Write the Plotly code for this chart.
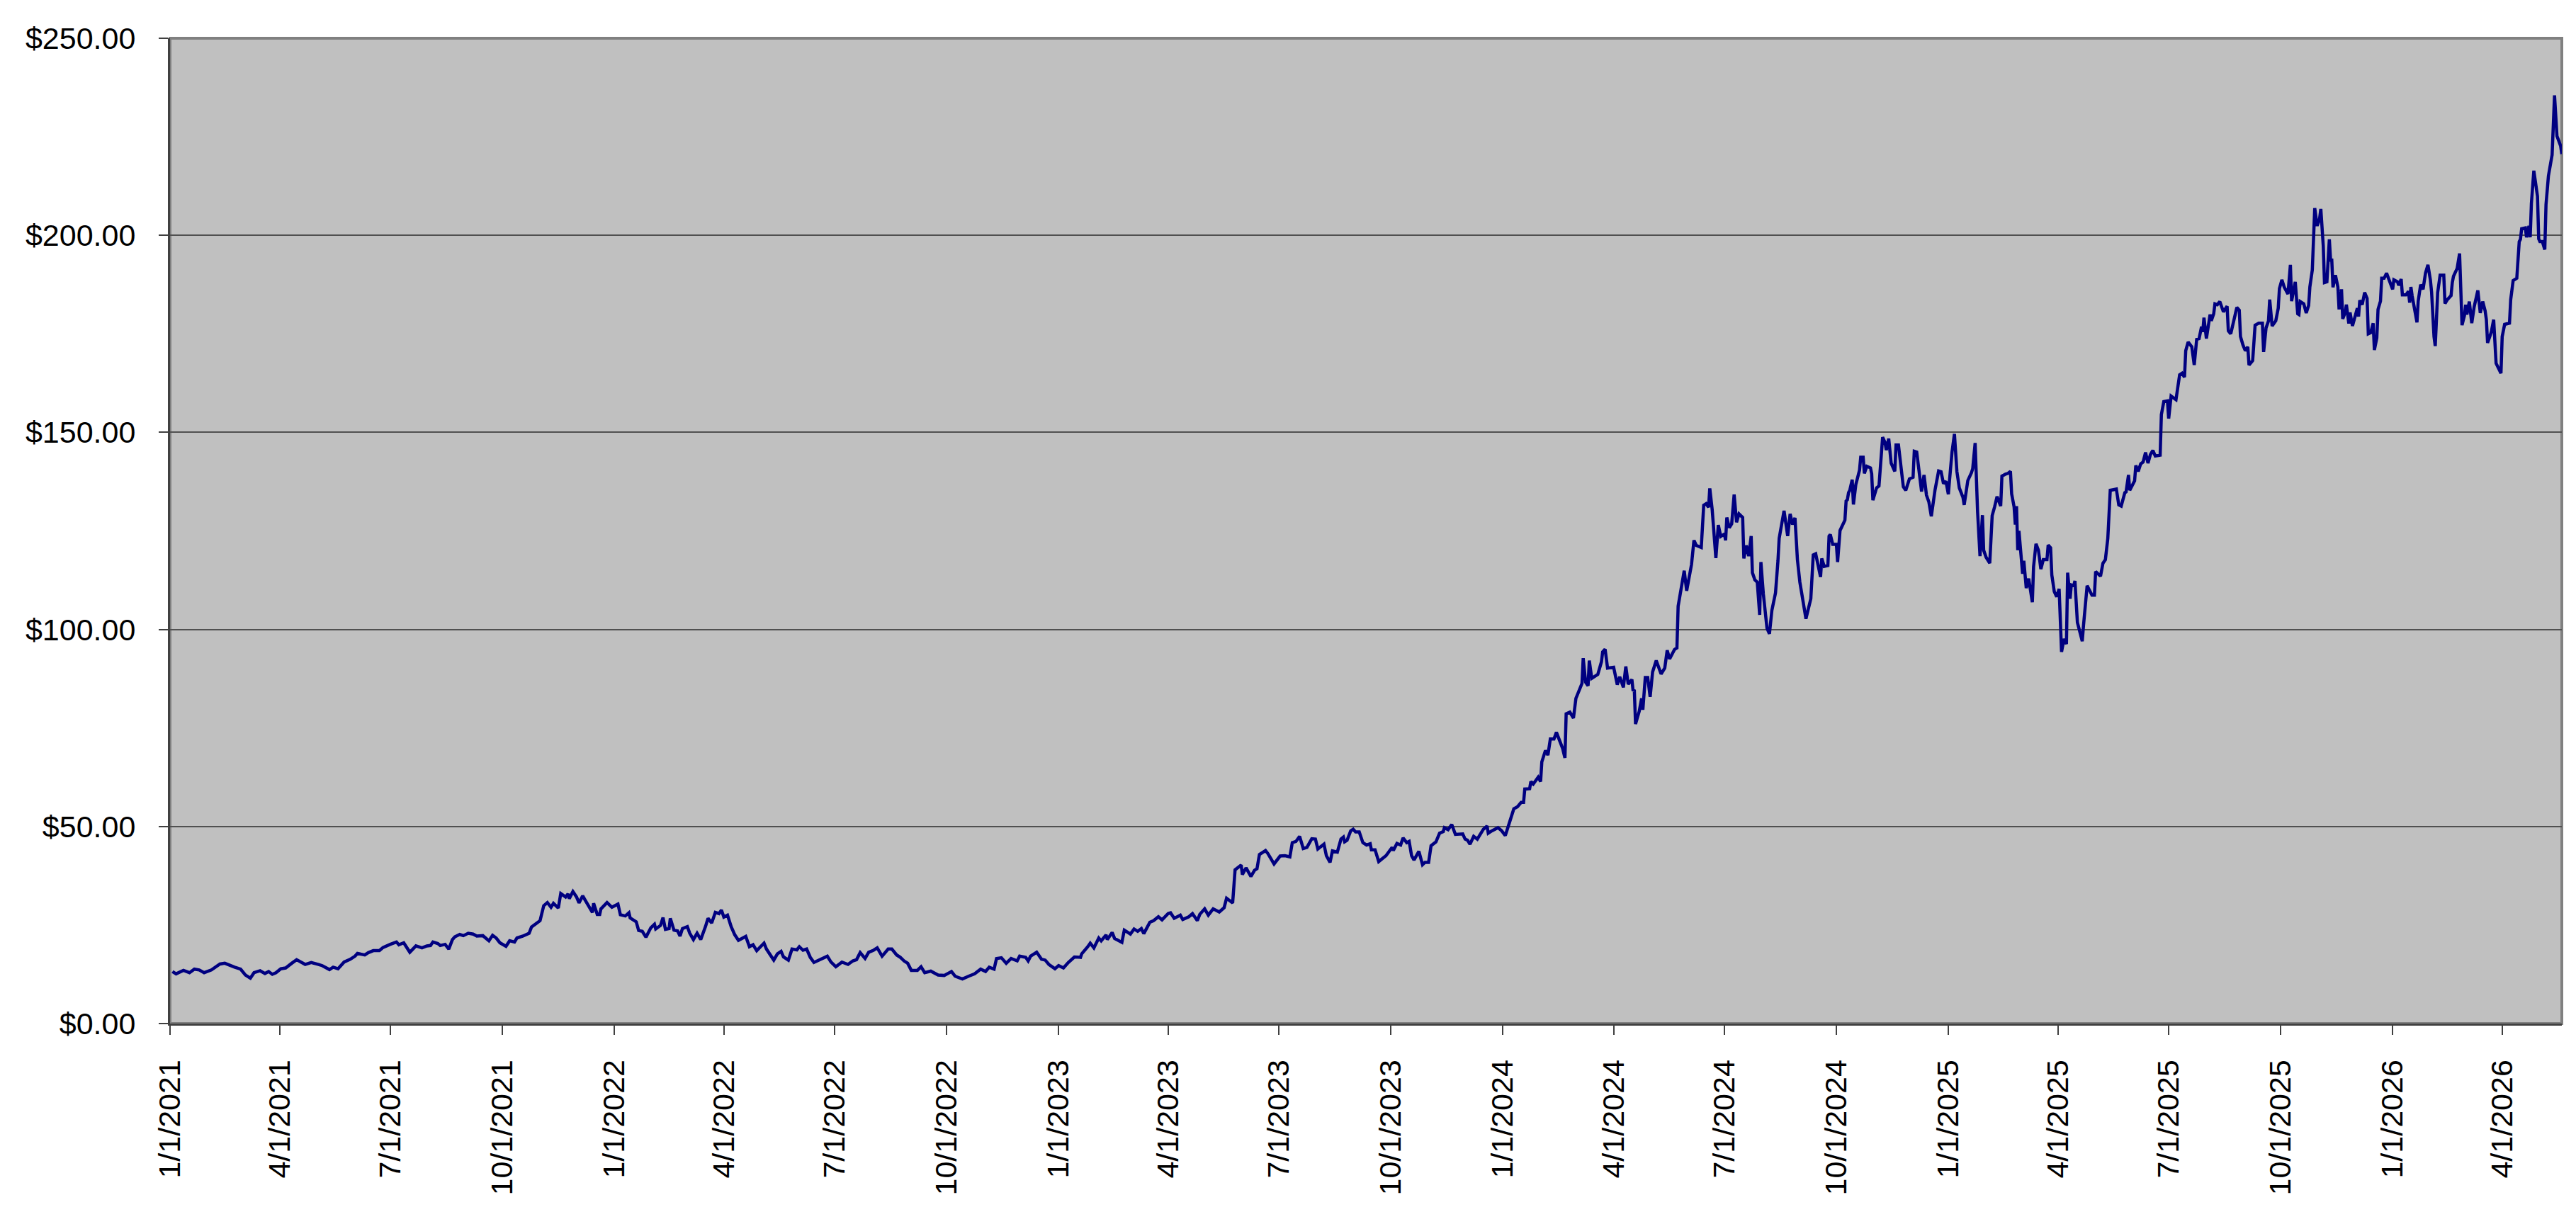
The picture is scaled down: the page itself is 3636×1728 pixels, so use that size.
# Price history line chart (Excel-style look)

import pandas as pd
import plotly.graph_objects as go

# %% Data: dates as MM-DD per year, closing price in dollars

days_2021 = ["01-03", "01-06", "01-12", "01-17", "01-21", "01-25", "01-29", "02-04", "02-11", "02-15",
             "02-23", "02-28", "03-04", "03-08", "03-11", "03-16", "03-20", "03-23", "03-26", "03-29",
             "04-02", "04-06", "04-11", "04-15", "04-22", "04-27", "05-03", "05-06", "05-12", "05-15",
             "05-19", "05-24", "05-29", "06-02", "06-04", "06-10", "06-13", "06-17", "06-22", "06-25",
             "07-01", "07-06", "07-08", "07-12", "07-17", "07-22", "07-27", "07-31", "08-03", "08-05",
             "08-09", "08-11", "08-15", "08-18", "08-21", "08-23", "08-27", "08-30", "09-03", "09-07",
             "09-10", "09-15", "09-20", "09-23", "09-26", "09-29", "10-04", "10-07", "10-11", "10-13",
             "10-18", "10-23", "10-25", "10-29", "11-01", "11-04", "11-07", "11-10", "11-12", "11-16",
             "11-18", "11-22", "11-24", "11-25", "11-28", "12-01", "12-03", "12-06", "12-10", "12-14",
             "12-15", "12-18", "12-20", "12-21", "12-26", "12-30"]
price_2021 = [13.2, 12.6, 13.5, 12.9, 13.8, 13.6, 12.9, 13.6, 15.1, 15.3,
              14.3, 13.8, 12.3, 11.5, 12.9, 13.4, 12.7, 13.2, 12.5, 12.9,
              13.9, 14.1, 15.3, 16.2, 15.0, 15.5, 15.0, 14.7, 13.7, 14.3,
              13.9, 15.6, 16.3, 17.1, 17.8, 17.4, 18.0, 18.5, 18.5, 19.3,
              20.1, 20.7, 20.0, 20.5, 18.1, 19.7, 19.2, 19.7, 19.8, 20.7,
              20.3, 19.8, 20.1, 18.9, 21.3, 22.0, 22.6, 22.3, 22.9, 22.7,
              22.2, 22.3, 21.0, 22.4, 21.7, 20.5, 19.6, 21.0, 20.7, 21.7,
              22.2, 22.9, 24.5, 25.5, 26.1, 29.9, 30.7, 29.5, 30.5, 29.3,
              33.0, 32.1, 32.9, 31.7, 33.5, 32.1, 30.6, 32.4, 30.3, 28.2,
              30.5, 27.7, 27.7, 29.1, 30.7, 29.5]

days_2022 = ["01-04", "01-06", "01-10", "01-13", "01-14", "01-19", "01-21", "01-24", "01-27", "01-31",
             "02-03", "02-04", "02-08", "02-10", "02-12", "02-15", "02-16", "02-19", "02-22", "02-24",
             "02-26", "03-02", "03-04", "03-07", "03-10", "03-13", "03-17", "03-19", "03-22", "03-25",
             "03-28", "03-30", "04-01", "04-04", "04-07", "04-10", "04-13", "04-16", "04-19", "04-22",
             "04-25", "04-28", "05-01", "05-04", "05-06", "05-09", "05-12", "05-15", "05-18", "05-20",
             "05-24", "05-27", "05-31", "06-02", "06-05", "06-08", "06-11", "06-14", "06-19", "06-23",
             "06-25", "06-28", "07-02", "07-07", "07-12", "07-16", "07-19", "07-22", "07-26", "07-29",
             "08-02", "08-05", "08-09", "08-14", "08-17", "08-21", "08-24", "08-27", "08-30", "09-02",
             "09-07", "09-10", "09-13", "09-18", "09-24", "09-29", "10-05", "10-08", "10-14", "10-19",
             "10-24", "10-29", "11-02", "11-05", "11-09", "11-11", "11-15", "11-19", "11-23", "11-28",
             "11-30", "12-05", "12-07", "12-09", "12-14", "12-18", "12-21", "12-24", "12-29"]
price_2022 = [30.3, 27.6, 27.3, 28.1, 26.8, 25.8, 23.6, 23.4, 21.9, 24.3,
              25.2, 24.0, 24.9, 26.9, 23.9, 24.1, 26.7, 23.7, 23.5, 22.2,
              24.1, 24.6, 22.9, 21.3, 22.9, 21.3, 24.7, 26.7, 25.5, 28.2,
              27.9, 28.8, 27.0, 27.5, 24.6, 22.5, 21.1, 21.6, 22.1, 19.5,
              20.0, 18.5, 19.5, 20.4, 18.9, 17.4, 16.1, 17.7, 18.3, 16.9,
              16.1, 18.9, 18.7, 19.5, 18.6, 18.9, 16.8, 15.5, 16.2, 16.8,
              17.1, 15.6, 14.4, 15.6, 15.0, 15.9, 16.2, 18.0, 16.5, 18.1,
              18.6, 19.2, 17.1, 18.9, 18.9, 17.4, 16.8, 15.9, 15.3, 13.5,
              13.5, 14.4, 12.9, 13.3, 12.3, 12.2, 13.2, 12.0, 11.3, 12.0,
              12.6, 13.8, 13.2, 14.3, 13.8, 16.5, 16.7, 15.3, 16.5, 15.9,
              17.1, 16.8, 15.9, 17.1, 18.1, 16.3, 16.1, 15.0, 13.9]

days_2023 = ["01-01", "01-05", "01-09", "01-14", "01-19", "01-20", "01-25", "01-27", "01-30", "02-03",
             "02-05", "02-09", "02-10", "02-14", "02-16", "02-22", "02-24", "03-01", "03-04", "03-07",
             "03-10", "03-12", "03-17", "03-20", "03-24", "03-27", "04-01", "04-03", "04-06", "04-11",
             "04-13", "04-18", "04-21", "04-25", "04-27", "05-01", "05-04", "05-08", "05-13", "05-17",
             "05-19", "05-24", "05-26", "05-31", "06-01", "06-04", "06-08", "06-11", "06-13", "06-15",
             "06-20", "06-22", "06-27", "07-02", "07-06", "07-10", "07-12", "07-15", "07-18", "07-21",
             "07-24", "07-26", "07-28", "07-31", "08-02", "08-07", "08-09", "08-12", "08-14", "08-18",
             "08-21", "08-23", "08-24", "08-26", "08-29", "08-31", "09-02", "09-05", "09-08", "09-11",
             "09-14", "09-15", "09-18", "09-21", "09-25", "09-27", "10-02", "10-03", "10-06", "10-09",
             "10-11", "10-14", "10-16", "10-18", "10-20", "10-24", "10-27", "10-29", "11-01", "11-03",
             "11-07", "11-10", "11-13", "11-14", "11-17", "11-20", "11-23", "11-26", "11-29", "12-01",
             "12-03", "12-05", "12-08", "12-11", "12-14", "12-16", "12-19", "12-20", "12-23", "12-28",
             "12-31"]
price_2023 = [14.7, 14.1, 15.5, 16.9, 16.8, 17.7, 19.5, 20.4, 19.2, 21.7,
              21.0, 22.5, 21.3, 23.1, 21.6, 20.6, 23.7, 22.7, 24.0, 23.4,
              24.1, 22.8, 25.7, 26.1, 27.1, 26.3, 27.9, 28.1, 26.7, 27.5,
              26.4, 27.1, 27.9, 26.1, 27.7, 29.1, 27.5, 29.1, 28.3, 29.4,
              31.8, 30.6, 39.0, 40.2, 37.8, 39.5, 37.3, 38.9, 39.3, 42.9,
              43.9, 43.1, 40.5, 42.5, 42.6, 42.3, 45.9, 46.2, 47.5, 44.4,
              44.7, 45.7, 46.9, 46.8, 44.3, 45.5, 42.6, 40.9, 43.8, 43.5,
              46.8, 47.3, 46.1, 46.5, 48.9, 49.3, 48.6, 48.6, 45.9, 45.3,
              45.6, 44.1, 44.1, 41.1, 42.1, 42.6, 44.7, 43.9, 45.7, 45.3,
              47.1, 45.9, 46.2, 42.6, 41.5, 43.7, 40.3, 40.9, 40.9, 45.1,
              46.1, 48.3, 48.7, 49.7, 49.2, 50.5, 48.0, 48.0, 48.1, 46.8,
              46.5, 45.5, 47.5, 46.8, 48.3, 49.3, 50.1, 48.3, 48.9, 49.7,
              48.9]

days_2024 = ["01-03", "01-06", "01-10", "01-13", "01-16", "01-18", "01-19", "01-23", "01-24", "01-26",
             "01-30", "02-01", "02-02", "02-05", "02-07", "02-09", "02-12", "02-14", "02-16", "02-19",
             "02-21", "02-22", "02-25", "02-28", "03-01", "03-04", "03-06", "03-07", "03-09", "03-11",
             "03-12", "03-14", "03-19", "03-22", "03-23", "03-25", "03-27", "04-01", "04-04", "04-06",
             "04-09", "04-11", "04-13", "04-16", "04-17", "04-18", "04-19", "04-22", "04-24", "04-25",
             "04-27", "04-29", "05-01", "05-03", "05-06", "05-10", "05-13", "05-15", "05-17", "05-21",
             "05-23", "05-24", "05-26", "05-29", "05-31", "06-02", "06-04", "06-06", "06-08", "06-12",
             "06-14", "06-16", "06-18", "06-19", "06-21", "06-24", "06-26", "06-28", "07-01", "07-02",
             "07-03", "07-05", "07-07", "07-09", "07-11", "07-13", "07-16", "07-17", "07-19", "07-21",
             "07-23", "07-24", "07-26", "07-28", "07-30", "07-31", "08-02", "08-05", "08-07", "08-09",
             "08-12", "08-14", "08-15", "08-19", "08-22", "08-24", "08-26", "08-28", "08-30", "09-01",
             "09-04", "09-06", "09-10", "09-12", "09-14", "09-18", "09-19", "09-21", "09-24", "09-25",
             "09-26", "09-28", "10-01", "10-02", "10-04", "10-08", "10-09", "10-10", "10-11", "10-12",
             "10-14", "10-15", "10-17", "10-20", "10-21", "10-23", "10-24", "10-26", "10-29", "10-30",
             "10-31", "11-03", "11-05", "11-08", "11-10", "11-11", "11-13", "11-15", "11-18", "11-19",
             "11-21", "11-23", "11-25", "11-27", "11-30", "12-03", "12-04", "12-06", "12-08", "12-10",
             "12-12", "12-14", "12-16", "12-18", "12-21", "12-24", "12-26", "12-28", "12-30"]
price_2024 = [47.7, 50.6, 54.5, 55.0, 56.1, 56.1, 59.5, 59.6, 61.4, 60.8,
              62.5, 61.4, 66.4, 69.3, 68.1, 72.2, 72.2, 73.9, 72.5, 69.9,
              67.4, 78.6, 79.0, 77.5, 82.5, 84.7, 86.3, 92.7, 86.6, 85.7,
              92.1, 87.6, 88.6, 91.8, 94.3, 95.0, 90.2, 90.4, 86.0, 88.0,
              85.3, 90.6, 86.1, 87.3, 84.4, 84.7, 76.0, 79.2, 82.5, 79.6,
              87.8, 87.8, 82.9, 89.2, 92.1, 88.7, 90.2, 94.7, 92.5, 94.9,
              95.3, 105.9, 109.1, 114.9, 109.8, 113.0, 116.5, 122.6, 121.3, 120.8,
              131.5, 131.9, 131.0, 135.8, 130.3, 118.1, 126.5, 123.6, 124.2, 122.6,
              128.4, 125.8, 126.8, 134.2, 127.2, 129.3, 128.4, 118.0, 121.3, 118.6,
              123.7, 114.4, 112.6, 112.0, 103.7, 117.1, 109.0, 100.3, 98.9, 104.8,
              109.3, 117.4, 123.1, 130.1, 123.7, 129.3, 126.6, 128.3, 117.7, 112.0,
              106.0, 102.7, 107.8, 118.9, 119.2, 113.3, 118.0, 116.0, 116.2, 123.7,
              124.1, 121.6, 121.6, 117.1, 125.1, 127.7, 132.6, 132.9, 134.7, 135.3,
              138.0, 131.7, 136.8, 140.4, 143.7, 143.7, 139.6, 141.4, 141.0, 139.5,
              132.8, 135.9, 136.4, 148.8, 147.4, 145.5, 148.4, 142.2, 140.1, 146.8,
              146.8, 141.3, 136.2, 135.3, 138.2, 138.6, 145.2, 145.0, 140.1, 135.0,
              139.2, 134.1, 132.3, 128.7, 135.3, 140.2, 140.0, 137.0, 137.6]

days_2025 = ["01-01", "01-02", "01-04", "01-06", "01-08", "01-10", "01-13", "01-14", "01-16", "01-17",
             "01-20", "01-21", "01-23", "01-25", "01-27", "01-29", "01-30", "02-01", "02-04", "02-06",
             "02-08", "02-10", "02-13", "02-14", "02-17", "02-19", "02-21", "02-22", "02-24", "02-25",
             "02-26", "02-27", "02-28", "03-03", "03-04", "03-06", "03-08", "03-11", "03-12", "03-14",
             "03-16", "03-18", "03-20", "03-23", "03-24", "03-26", "03-27", "03-29", "03-31", "04-02",
             "04-04", "04-06", "04-08", "04-09", "04-11", "04-12", "04-14", "04-15", "04-17", "04-21",
             "04-22", "04-25", "04-29", "05-01", "05-02", "05-06", "05-08", "05-10", "05-12", "05-14",
             "05-19", "05-21", "05-23", "05-26", "05-27", "05-29", "05-30", "06-01", "06-03", "06-04",
             "06-06", "06-08", "06-10", "06-12", "06-14", "06-16", "06-18", "06-20", "06-24", "06-25",
             "06-27", "06-30", "07-01", "07-03", "07-07", "07-10", "07-12", "07-14", "07-15", "07-17",
             "07-20", "07-22", "07-24", "07-26", "07-28", "07-29", "07-30", "08-01", "08-04", "08-05",
             "08-07", "08-08", "08-10", "08-12", "08-14", "08-15", "08-18", "08-19", "08-21", "08-23",
             "08-24", "08-26", "08-28", "08-29", "08-31", "09-02", "09-04", "09-05", "09-08", "09-10",
             "09-13", "09-16", "09-17", "09-19", "09-21", "09-22", "09-24", "09-27", "09-29", "09-30",
             "10-02", "10-04", "10-07", "10-09", "10-10", "10-13", "10-15", "10-16", "10-17", "10-20",
             "10-22", "10-24", "10-25", "10-27", "10-29", "10-31", "11-02", "11-03", "11-05", "11-06",
             "11-08", "11-10", "11-11", "11-12", "11-13", "11-15", "11-17", "11-18", "11-20", "11-21",
             "11-23", "11-24", "11-26", "11-27", "11-29", "12-01", "12-03", "12-04", "12-05", "12-07",
             "12-09", "12-11", "12-12", "12-14", "12-16", "12-17", "12-19", "12-20", "12-22", "12-23",
             "12-25", "12-27", "12-29"]
price_2025 = [134.3, 138.0, 145.0, 149.6, 140.1, 135.9, 133.5, 131.6, 136.2, 137.8,
              139.8, 140.8, 147.3, 129.9, 118.6, 129.0, 120.1, 118.3, 116.8, 128.9,
              131.1, 133.7, 131.3, 138.9, 139.4, 139.6, 140.1, 134.4, 131.1, 126.6,
              131.3, 120.1, 125.0, 114.1, 117.4, 110.5, 112.9, 106.9, 115.9, 121.7,
              120.1, 115.3, 117.7, 117.7, 121.4, 120.7, 113.8, 109.6, 108.3, 110.3,
              94.3, 97.6, 96.3, 114.4, 107.8, 111.3, 111.1, 112.3, 101.8, 97.0,
              100.9, 111.1, 108.7, 108.7, 114.7, 113.5, 116.8, 117.7, 123.1, 135.3,
              135.6, 131.6, 131.3, 134.7, 134.9, 139.2, 135.3, 136.5, 137.7, 141.6,
              140.1, 142.0, 142.5, 144.9, 142.2, 144.4, 145.4, 144.0, 144.2, 154.5,
              157.8, 158.0, 153.5, 159.2, 158.3, 164.6, 165.0, 164.0, 170.7, 172.9,
              171.7, 167.1, 173.6, 173.8, 176.8, 175.5, 179.1, 173.8, 179.9, 178.3,
              180.1, 182.6, 182.4, 183.2, 181.7, 180.6, 182.0, 175.8, 175.0, 177.9,
              179.1, 181.7, 181.0, 174.3, 172.2, 170.7, 171.7, 167.1, 168.2, 177.2,
              177.7, 177.7, 170.4, 176.5, 178.3, 183.7, 177.0, 178.3, 181.5, 186.5,
              188.7, 186.8, 185.1, 192.5, 183.3, 188.2, 180.1, 179.9, 183.2, 182.6,
              180.3, 182.2, 186.9, 191.2, 206.9, 202.4, 204.2, 206.7, 197.3, 188.0,
              188.2, 199.0, 193.7, 193.7, 186.8, 189.9, 186.9, 181.2, 186.3, 178.8,
              180.4, 182.4, 177.6, 180.4, 177.0, 179.6, 181.5, 179.4, 183.5, 182.4,
              185.5, 184.0, 175.0, 175.3, 177.7, 170.9, 174.0, 181.2, 183.3, 189.1,
              189.1, 190.4, 188.7]

days_2026 = ["01-01", "01-02", "01-05", "01-06", "01-08", "01-09", "01-12", "01-14", "01-15", "01-16",
             "01-17", "01-21", "01-22", "01-24", "01-26", "01-28", "01-30", "02-01", "02-02", "02-04",
             "02-05", "02-07", "02-09", "02-12", "02-13", "02-15", "02-18", "02-19", "02-20", "02-23",
             "02-25", "02-27", "03-01", "03-02", "03-03", "03-05", "03-07", "03-09", "03-12", "03-14",
             "03-16", "03-18", "03-19", "03-20", "03-23", "03-25", "03-27", "03-31", "04-01", "04-03",
             "04-07", "04-08", "04-10", "04-13", "04-15", "04-16", "04-17", "04-20", "04-21", "04-23",
             "04-24", "04-25", "04-27", "04-30", "05-01", "05-02", "05-04", "05-06", "05-07", "05-09",
             "05-12", "05-14", "05-16", "05-19", "05-20"]
price_2026 = [186.3, 188.7, 188.2, 187.3, 188.9, 184.9, 184.9, 185.8, 182.9, 186.9,
              184.7, 177.9, 183.3, 187.5, 186.3, 190.4, 192.5, 188.7, 185.6, 174.3,
              171.9, 185.5, 189.9, 189.9, 182.7, 183.7, 184.7, 188.0, 189.6, 191.6,
              195.4, 177.2, 179.6, 182.4, 179.9, 183.2, 177.7, 181.9, 186.0, 180.3,
              183.2, 180.8, 178.6, 172.7, 175.4, 178.6, 167.5, 165.0, 174.3, 177.4,
              177.7, 183.7, 188.5, 189.1, 198.4, 199.0, 201.7, 201.9, 199.5, 202.4,
              199.5, 208.1, 216.4, 209.9, 199.1, 198.4, 198.4, 196.4, 207.8, 215.1,
              220.4, 235.5, 225.2, 222.7, 220.6]

# %% Montagem da série

anos = {2021: (days_2021, price_2021), 2022: (days_2022, price_2022),
        2023: (days_2023, price_2023), 2024: (days_2024, price_2024),
        2025: (days_2025, price_2025), 2026: (days_2026, price_2026)}

datas = []
precos = []
for ano, (dias, valores) in anos.items():
    datas += [f"{ano}-{d}" for d in dias]
    precos += valores

df = pd.DataFrame({'Data': pd.to_datetime(datas), 'Preco': precos})

# %% Plot

fonte = dict(family="Liberation Sans, Arial, sans-serif", size=43, color="black")

fig = go.Figure()
fig.add_trace(go.Scatter(x=df['Data'], y=df['Preco'], mode='lines',
                         line=dict(color='#000080', width=4.5), showlegend=False))

# borda cinza da área do gráfico (estilo Excel)
fig.add_shape(type='rect', xref='paper', yref='paper', x0=0, y0=0, x1=1, y1=1,
              line=dict(color='#808080', width=4), layer='below')

fig.update_layout(
    width=3636, height=1728, autosize=False,
    margin=dict(l=232, r=28, t=46, b=291),
    paper_bgcolor='white', plot_bgcolor='#C0C0C0',
    font=fonte,
)

fig.update_xaxes(
    type='date', range=['2021-01-01', '2026-05-20'],
    tick0='2021-01-01', dtick='M3', tickformat='%-m/%-d/%Y',
    tickangle=-90, tickfont=fonte,
    ticks='outside', ticklen=13, tickwidth=2, tickcolor='#404040',
    ticklabelstandoff=18,
    showgrid=False, zeroline=False,
    showline=True, linecolor='#404040', linewidth=3,
)

fig.update_yaxes(
    range=[0, 250], dtick=50, tickformat='$,.2f', tickfont=fonte,
    ticks='outside', ticklen=13, tickwidth=2, tickcolor='#404040',
    ticklabelstandoff=24,
    showgrid=True, gridcolor='#505050', gridwidth=2,
    zeroline=False,
    showline=True, linecolor='#404040', linewidth=3,
)

fig.write_html("out.html")
